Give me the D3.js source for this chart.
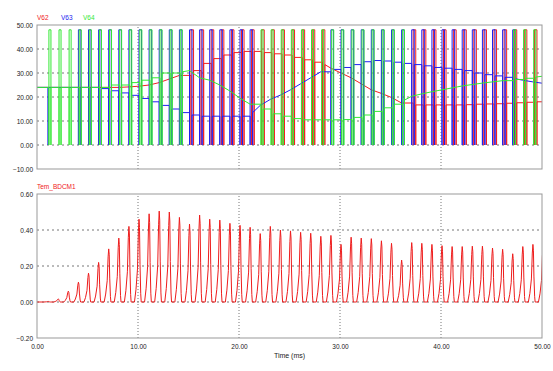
<!DOCTYPE html>
<html>
<head>
<meta charset="utf-8">
<script src="https://cdn.jsdelivr.net/npm/d3@7/dist/d3.min.js"></script>
<style>
  body { margin: 0; background: #fff; }
  text { font-family: "Liberation Sans", Arial, sans-serif; }
</style>
</head>
<body>
<svg id="chart" width="553" height="371"></svg>
<script>
// PWM period instants (ms)
const pulseTimes = [1.1, 2.1, 3.1, 4.1, 5.1, 6.1, 7.1, 8.1, 9.1, 10.1,
  11.1, 12.1, 13.1, 14.1, 15.1, 16.1, 17.1, 18.1, 19.1, 20.1,
  21.1, 22.1, 23.1, 24.1, 25.1, 26.1, 27.1, 28.1, 29.1, 30.1,
  31.1, 32.1, 33.1, 34.1, 35.1, 36.1, 37.1, 38.1, 39.1, 40.1,
  41.1, 42.1, 43.1, 44.1, 45.1, 46.1, 47.1, 48.1, 49.1, 50.1];

// level between pulses: first value at t=0, then one per period
const v62 = [24, 24, 24, 24, 24, 24, 24, 24, 24, 24.2, 24.5, 25, 26, 27.5, 29, 31, 34, 36, 37.5, 38.5,
  39, 39, 38.5, 38, 37.5, 36.5, 35.5, 34.5, 33.5, 32, 30, 28, 25.5, 23, 21.5, 19.8, 17.5, 16.7, 16.7, 16.7,
  16.7, 16.7, 16.8, 17, 17.1, 17.2, 17.4, 17.6, 17.8, 18, 18];
const v63 = [24, 24, 24, 24, 24, 24, 23.5, 22.6, 21.7, 20.7, 19.4, 18, 16.5, 15, 13.5, 12.5, 12, 12, 12, 12,
  12, 13.5, 16.5, 19, 20.8, 23, 25.5, 28, 30.5, 31.5, 32.3, 33.5, 34.7, 35.2, 35, 34.5, 34, 33.5, 33, 32.3,
  32, 31.5, 31, 30, 29.3, 28.8, 28.2, 27.6, 27, 26.3, 25.7];
const v64 = [24, 24, 24, 24, 24, 24, 24, 25, 25, 26, 27, 28, 30, 30, 30.5, 31, 28, 27, 25, 22.5,
  19.5, 17, 15, 13, 12, 11, 10.5, 10.5, 10.5, 10.5, 10.6, 11.5, 12.5, 14, 15.5, 17, 18.7, 20.3, 21.3, 22.2,
  23, 23.8, 24.6, 25.2, 25.8, 26.3, 26.8, 27.3, 27.8, 28.3, 28.7];

// periods (1-based) in which each phase switches to the supply
const v62On = [[15, 28], [37, 49]];
const v63On = [[4, 21], [29, 47]];
const v64On = [[1, 14], [22, 36], [47, 49]];
const v63Dips = [1];          // short drop to 0 V
const supplyV = 48;

// torque pulse peaks, one per period
const tem = [0.003, 0.017, 0.06, 0.11, 0.16, 0.22, 0.295, 0.355, 0.42, 0.46,
  0.49, 0.505, 0.50, 0.47, 0.433, 0.483, 0.46, 0.455, 0.437, 0.426,
  0.415, 0.38, 0.42, 0.40, 0.395, 0.387, 0.382, 0.365, 0.37, 0.32,
  0.36, 0.355, 0.352, 0.34, 0.326, 0.233, 0.33, 0.326, 0.32, 0.313,
  0.308, 0.308, 0.31, 0.31, 0.30, 0.293, 0.268, 0.308, 0.32, 0.3];
// one torque pulse: [ms from period instant, share of peak]
const pulseShape = [[-0.45, 0], [-0.3, 0.15], [-0.15, 0.4], [-0.06, 0.85], [0, 1],
  [0.05, 0.9], [0.1, 0.45], [0.17, 0.1], [0.22, 0]];

const xTicks = [0, 10, 20, 30, 40, 50];
const topTicks = [-10, 0, 10, 20, 30, 40, 50];
const botTicks = [-0.2, 0, 0.2, 0.4, 0.6];

const svg = d3.select('#chart');
const left = 37, right = 542;
const x = d3.scaleLinear().domain([0, 50]).range([left, right]);
const yTop = d3.scaleLinear().domain([-10, 50]).range([169, 25]);
const yBot = d3.scaleLinear().domain([-0.2, 0.6]).range([338, 194]);
const fmt = d3.format('.2f');

function panel(y, ticks, id) {
  const [y0, y1] = y.range();
  svg.append('clipPath').attr('id', id)
    .append('rect').attr('x', left).attr('y', y1).attr('width', right - left).attr('height', y0 - y1);
  // grid
  svg.append('g').selectAll('line')
    .data(ticks.slice(1, -1)).enter().append('line')
    .attr('x1', left).attr('x2', right)
    .attr('y1', d => y(d)).attr('y2', d => y(d))
    .attr('stroke', '#777').attr('stroke-dasharray', '2,3');
  svg.append('g').selectAll('line')
    .data(xTicks.slice(1, -1)).enter().append('line')
    .attr('x1', d => x(d)).attr('x2', d => x(d))
    .attr('y1', y0).attr('y2', y1)
    .attr('stroke', '#777').attr('stroke-dasharray', '1,2');
  // y labels
  const ax = svg.append('g').attr('transform', `translate(${left},0)`)
    .call(d3.axisLeft(y).tickValues(ticks).tickSize(0).tickPadding(4).tickFormat(fmt));
  ax.select('.domain').remove();
  ax.selectAll('text').attr('font-size', 6.5).attr('fill', '#222');
  return id;
}

function frame(y) {
  const [y0, y1] = y.range();
  svg.append('rect').attr('x', left).attr('y', y1)
    .attr('width', right - left).attr('height', y0 - y1)
    .attr('fill', 'none').attr('stroke', '#999');
}

const clipTop = panel(yTop, topTicks, 'clipTop');
const clipBot = panel(yBot, botTicks, 'clipBot');

function phasePoints(env, ranges, offset, width, dips) {
  const on = k => ranges.some(([a, b]) => k >= a && k <= b);
  const pts = [[0, env[0]]];
  pulseTimes.forEach((t, i) => {
    const k = i + 1;
    const prev = pts[pts.length - 1][1];
    if (on(k)) {
      const t0 = t + offset;
      pts.push([t0, prev], [t0, 0], [t0, supplyV], [t0 + width, supplyV],
        [t0 + width, 0], [t0 + width, env[k]]);
    } else if (dips.includes(k)) {
      pts.push([t, prev], [t, 0], [t, env[k]]);
    } else {
      pts.push([t, env[k]]);
    }
  });
  return pts;
}

const lineTop = d3.line().x(d => x(d[0])).y(d => yTop(d[1]));
const phases = [
  { env: v62, on: v62On, off: 0.15, w: 0.25, dips: [], color: '#f02020' },
  { env: v63, on: v63On, off: 0.0, w: 0.25, dips: v63Dips, color: '#2020f0' },
  { env: v64, on: v64On, off: 0.08, w: 0.2, dips: [], color: '#33e833' }
];
const gTop = svg.append('g').attr('clip-path', `url(#${clipTop})`);
phases.forEach(p => {
  gTop.append('path')
    .attr('d', lineTop(phasePoints(p.env, p.on, p.off, p.w, p.dips)))
    .attr('fill', 'none').attr('stroke', p.color).attr('stroke-width', 1);
});

// torque trace
const temPts = [[0, 0]];
pulseTimes.forEach((t, i) => {
  pulseShape.forEach(([dt, f]) => temPts.push([t + dt, f * tem[i]]));
});
const lineBot = d3.line().x(d => x(d[0])).y(d => yBot(d[1]));
svg.append('g').attr('clip-path', `url(#${clipBot})`)
  .append('path').attr('d', lineBot(temPts))
  .attr('fill', 'none').attr('stroke', '#ee1c1c').attr('stroke-width', 1);

frame(yTop);
frame(yBot);

// x axis
const xa = svg.append('g').attr('transform', `translate(0,${yBot.range()[0]})`)
  .call(d3.axisBottom(x).tickValues(xTicks).tickSize(0).tickPadding(6).tickFormat(fmt));
xa.select('.domain').remove();
xa.selectAll('text').attr('font-size', 6.5).attr('fill', '#222');
svg.append('text').attr('x', (left + right) / 2).attr('y', 358)
  .attr('text-anchor', 'middle').attr('font-size', 7).attr('fill', '#222').text('Time (ms)');

// legends
const legend = [['V62', '#f02020', 37], ['V63', '#2020f0', 61], ['V64', '#33e833', 83]];
svg.selectAll('.leg').data(legend).enter().append('text')
  .attr('x', d => d[2]).attr('y', 20).attr('font-size', 6.5)
  .attr('fill', d => d[1]).text(d => d[0]);
svg.append('text').attr('x', 37).attr('y', 189).attr('font-size', 6.5)
  .attr('fill', '#f02020').text('Tem_BDCM1');
</script>
</body>
</html>
